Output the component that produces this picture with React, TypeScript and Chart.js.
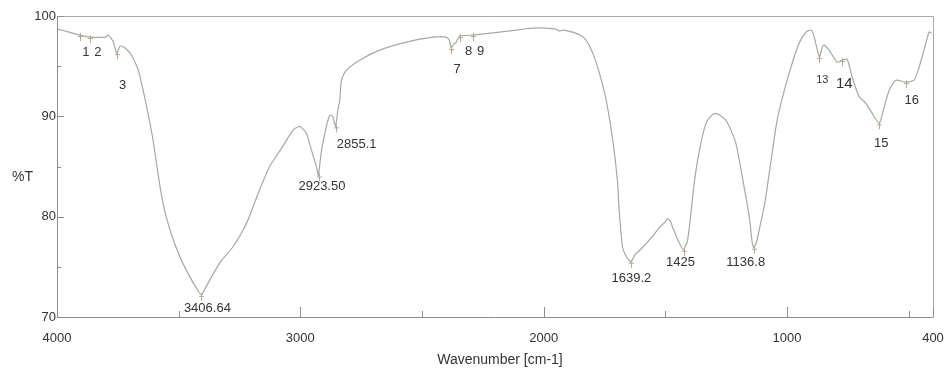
import React, { useEffect, useRef } from "react";
import { Chart, registerables } from "chart.js";

Chart.register(...registerables);

// Spectrum data (wavenumber cm-1, %T)
const WAVENUMBERS = [
  4000, 3950, 3906, 3865, 3800, 3790, 3770, 3755, 3740, 3720, 3700, 3687, 3666, 3646, 3626, 3605, 3585, 3565,
  3536, 3495, 3454, 3425, 3407, 3390, 3372, 3331, 3277, 3220, 3167, 3126, 3072, 3031, 3002, 2975, 2954,
  2934, 2926, 2913, 2893, 2879, 2867, 2855, 2846, 2838, 2831, 2811, 2756, 2674, 2564, 2456, 2400, 2388,
  2380, 2370, 2359, 2345, 2292, 2181, 2045, 1990, 1950, 1935, 1920, 1881, 1850, 1826, 1798, 1771, 1743, 1716,
  1697, 1689, 1676, 1660, 1641, 1625, 1607, 1580, 1553, 1525, 1500, 1492, 1480, 1471, 1443, 1426, 1410, 1401,
  1381, 1360, 1333, 1310, 1295, 1275, 1251, 1230, 1210, 1184, 1155, 1143, 1137, 1125, 1114, 1090, 1075,
  1060, 1045, 1032, 991, 950, 922, 901, 888, 867, 855, 847, 827, 794, 773, 753, 732, 704, 676, 650, 621, 601, 580,
  553, 512, 478, 457, 437, 416, 405,
];
const TRANSMITTANCE = [
  98.7, 98.4, 98.1, 97.9, 97.9, 98.1, 97.5, 96.3, 97.0, 96.8, 96.3, 95.8, 94.6, 92.6, 90.3, 87.6, 84.3, 81.4,
  78.7, 76.0, 74.0, 72.8, 72.2, 72.9, 73.7, 75.4, 77.0, 79.4, 82.7, 85.0, 87.0, 88.6, 89.0, 88.3, 86.6,
  85.0, 84.1, 86.6, 89.0, 90.1, 90.0, 89.0, 90.6, 91.6, 93.6, 94.6, 95.6, 96.6, 97.4, 97.9, 97.9, 97.6,
  96.8, 97.2, 97.4, 98.0, 98.1, 98.4, 98.8, 98.8, 98.7, 98.5, 98.6, 98.4, 98.1, 97.6, 96.3, 94.3, 91.6, 87.6,
  83.6, 80.4, 77.0, 76.0, 75.5, 76.2, 76.6, 77.3, 78.0, 78.9, 79.5, 79.8, 79.6, 79.0, 77.4, 76.7, 77.5, 79.0,
  83.4, 86.6, 89.3, 90.1, 90.3, 90.1, 89.6, 88.6, 87.3, 84.0, 80.0, 77.4, 76.9, 77.5, 78.7, 81.5, 84.0,
  86.5, 89.0, 90.6, 94.3, 97.3, 98.4, 98.6, 97.9, 95.9, 96.9, 97.1, 96.6, 95.4, 95.6, 95.7, 93.9, 92.0, 91.3, 90.3,
  89.3, 90.9, 92.6, 93.6, 93.4, 93.6, 94.9, 96.6, 98.4, 98.3,
];

// Peak picks
const PEAK_WAVENUMBERS = [3906, 3865, 3755, 3406.64, 2923.5, 2855.1, 2380, 2345, 2292, 1639.2, 1425, 1136.8, 867, 773, 621, 512];
const PEAK_VALUES = [98.1, 97.9, 96.3, 72.2, 84.1, 89.0, 96.8, 98.0, 98.1, 75.5, 76.7, 76.9, 95.9, 95.6, 89.3, 93.4];
const PEAK_LABELS = ["1", "2", "3", "3406.64", "2923.50", "2855.1", "7", "8", "9", "1639.2", "1425", "1136.8", "13", "14", "15", "16"];

// Label placement / style (pixels relative to the peak point)
const PEAK_LABEL_DX = [6, 8, 6, 6, 3, 21, 6, 9, 8, 0, -3, -8, 3, 2, 2, 6];
const PEAK_LABEL_DY = [17, 15, 32, 13, 11, 18, 21, 15, 16, 17, 13, 15, 23, 24, 20, 18];
const PEAK_LABEL_SIZE = [13, 13, 13, 13, 13, 13, 13, 13, 13, 13, 13, 13, 11, 15, 13, 13];

const X_MAJOR_TICKS = [4000, 3000, 2000, 1000, 400];
const X_MINOR_TICKS = [3500, 2500, 1500, 500];
const Y_MAJOR_TICKS = [70, 80, 90, 100];
const Y_MINOR_TICKS = [75, 85, 95];

const X_TITLE = "Wavenumber [cm-1]";
const Y_TITLE = "%T";

const FONT = "'Liberation Sans', Arial, sans-serif";
const TEXT_COLOR = "#333333";

const decorPlugin = {
  id: "decor",
  afterDraw(chart: any) {
    const { ctx, chartArea, scales } = chart;
    const x = scales.x;
    const y = scales.y;
    const { left, right, top, bottom } = chartArea;
    ctx.save();
    // frame
    ctx.lineWidth = 1;
    ctx.strokeStyle = "#a8a8a8";
    ctx.beginPath();
    ctx.moveTo(left, top + 0.5);
    ctx.lineTo(right + 0.5, top + 0.5);
    ctx.lineTo(right + 0.5, bottom);
    ctx.stroke();
    ctx.strokeStyle = "#8c8c8c";
    ctx.beginPath();
    ctx.moveTo(left + 0.5, top);
    ctx.lineTo(left + 0.5, bottom + 0.5);
    ctx.lineTo(right + 0.5, bottom + 0.5);
    ctx.stroke();
    // ticks (inside)
    ctx.beginPath();
    X_MAJOR_TICKS.forEach((v) => {
      const px = Math.round(x.getPixelForValue(v)) + 0.5;
      ctx.moveTo(px, bottom);
      ctx.lineTo(px, bottom - 10);
    });
    X_MINOR_TICKS.forEach((v) => {
      const px = Math.round(x.getPixelForValue(v)) + 0.5;
      ctx.moveTo(px, bottom);
      ctx.lineTo(px, bottom - 6);
    });
    Y_MAJOR_TICKS.forEach((v) => {
      const py = Math.round(y.getPixelForValue(v)) + 0.5;
      ctx.moveTo(left, py);
      ctx.lineTo(left + 7, py);
    });
    Y_MINOR_TICKS.forEach((v) => {
      const py = Math.round(y.getPixelForValue(v)) + 0.5;
      ctx.moveTo(left, py);
      ctx.lineTo(left + 4, py);
    });
    ctx.stroke();

    // peak markers and labels
    PEAK_WAVENUMBERS.forEach((w, i) => {
      const px = x.getPixelForValue(w);
      const py = y.getPixelForValue(PEAK_VALUES[i]);
      ctx.strokeStyle = "#c9a284";
      ctx.beginPath();
      ctx.moveTo(Math.round(px) + 0.5, py - 2);
      ctx.lineTo(Math.round(px) + 0.5, py + 6);
      ctx.moveTo(Math.round(px) - 2, py + 1.5);
      ctx.lineTo(Math.round(px) + 3, py + 1.5);
      ctx.stroke();
      ctx.fillStyle = TEXT_COLOR;
      ctx.font = `${PEAK_LABEL_SIZE[i]}px ${FONT}`;
      ctx.textAlign = "center";
      ctx.textBaseline = "middle";
      ctx.fillText(PEAK_LABELS[i], px + PEAK_LABEL_DX[i], py + PEAK_LABEL_DY[i]);
    });

    // axis titles
    ctx.fillStyle = TEXT_COLOR;
    ctx.font = `14px ${FONT}`;
    ctx.textAlign = "left";
    ctx.textBaseline = "middle";
    ctx.fillText(Y_TITLE, 12, (top + bottom) / 2 + 11);
    ctx.textAlign = "center";
    ctx.fillText(X_TITLE, 500, 360);
    ctx.restore();
  },
};

export default function App() {
  const canvasRef = useRef<HTMLCanvasElement | null>(null);

  useEffect(() => {
    const canvas = canvasRef.current;
    if (!canvas) return;
    const data = WAVENUMBERS.map((w, i) => ({ x: w, y: TRANSMITTANCE[i] }));
    const chart = new Chart(canvas, {
      type: "line",
      data: {
        datasets: [
          {
            data,
            borderColor: "#9cae9f",
            borderWidth: 1.2,
            pointRadius: 0,
            tension: 0.2,
            fill: false,
          },
        ],
      },
      options: {
        animation: false,
        responsive: false,
        layout: { padding: { left: 0, top: 16, right: 15, bottom: 0 } },
        plugins: { legend: { display: false }, tooltip: { enabled: false } },
        scales: {
          x: {
            type: "linear",
            reverse: true,
            min: 400,
            max: 4000,
            grid: { display: false, drawTicks: false },
            border: { display: false },
            afterBuildTicks: (scale: any) => {
              scale.ticks = X_MAJOR_TICKS.map((v) => ({ value: v }));
            },
            afterFit: (scale: any) => {
              scale.height = 53;
              scale.paddingLeft = 0;
              scale.paddingRight = 0;
            },
            ticks: {
              autoSkip: false,
              maxRotation: 0,
              padding: 14,
              color: TEXT_COLOR,
              font: { family: FONT, size: 13 },
              callback: (v: any) => String(v),
            },
          },
          y: {
            type: "linear",
            min: 70,
            max: 100,
            grid: { display: false, drawTicks: false },
            border: { display: false },
            afterBuildTicks: (scale: any) => {
              scale.ticks = Y_MAJOR_TICKS.map((v) => ({ value: v }));
            },
            afterFit: (scale: any) => {
              scale.width = 57;
              scale.paddingTop = 0;
              scale.paddingBottom = 0;
            },
            ticks: {
              padding: 1,
              color: TEXT_COLOR,
              font: { family: FONT, size: 13 },
              callback: (v: any) => String(v),
            },
          },
        },
      },
      plugins: [decorPlugin],
    });
    return () => chart.destroy();
  }, []);

  return (
    <div style={{ position: "absolute", left: 0, top: 0, width: 948, height: 370, background: "#fff" }}>
      <canvas ref={canvasRef} width={948} height={370} />
    </div>
  );
}
